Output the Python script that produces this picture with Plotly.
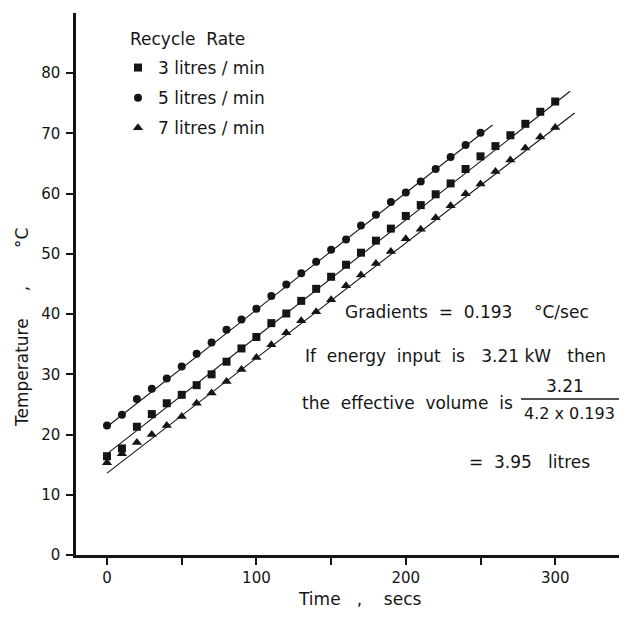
import plotly.graph_objects as go

# ---- data ----
time_5 = [0, 10, 20, 30, 40, 50, 60, 70, 80, 90, 100, 110, 120, 130, 140, 150,
          160, 170, 180, 190, 200, 210, 220, 230, 240, 250]
temp_5 = [21.5, 23.3, 25.9, 27.6, 29.3, 31.3, 33.4, 35.3, 37.4, 39.1, 40.9, 43.0,
          44.9, 46.8, 48.7, 50.7, 52.4, 54.7, 56.5, 58.6, 60.2, 62.0, 64.1, 66.1,
          68.1, 70.1]

time_3 = [0, 10, 20, 30, 40, 50, 60, 70, 80, 90, 100, 110, 120, 130, 140, 150,
          160, 170, 180, 190, 200, 210, 220, 230, 240, 250, 260, 270, 280, 290, 300]
temp_3 = [16.4, 17.7, 21.3, 23.4, 25.2, 26.6, 28.2, 30.0, 32.1, 34.3, 36.2, 38.5,
          40.1, 42.2, 44.2, 46.2, 48.2, 50.2, 52.2, 54.2, 56.3, 58.1, 59.9, 61.7,
          64.1, 66.2, 67.9, 69.7, 71.6, 73.6, 75.3]

time_7 = [0, 10, 20, 30, 40, 50, 60, 70, 80, 90, 100, 110, 120, 130, 140, 150,
          160, 170, 180, 190, 200, 210, 220, 230, 240, 250, 260, 270, 280, 290, 300]
temp_7 = [15.3, 16.8, 18.7, 20.0, 21.5, 23.0, 25.2, 26.9, 28.8, 30.8, 32.8, 34.9,
          36.9, 38.9, 40.4, 42.4, 44.7, 46.5, 48.4, 50.4, 52.5, 54.1, 56.0, 58.0,
          60.0, 61.6, 63.7, 65.6, 67.6, 69.4, 71.0]

# fitted straight lines (end points)
fit_5_t = [0, 258]
fit_5_T = [21.3, 71.4]
fit_3_t = [0, 310]
fit_3_T = [16.8, 77.0]
fit_7_t = [0, 313]
fit_7_T = [13.6, 73.4]

series_names = ["3 litres / min", "5 litres / min", "7 litres / min"]
x_tick_vals = [0, 50, 100, 150, 200, 250, 300]
x_tick_text = ["0", "", "100", "", "200", "", "300"]
y_tick_vals = [0, 10, 20, 30, 40, 50, 60, 70, 80]
y_tick_text = ["0", "10", "20", "30", "40", "50", "60", "70", "80"]

# ---- layout geometry (page body has an 8px margin) ----
OFF = 8
W, H = 627 - 2 * OFF, 619 - 2 * OFF
PL, PR, PT, PB = 76, 619, 13, 555          # plot area in window pixels
ML, MR, MT, MB = PL - OFF, (W + OFF) - PR, PT - OFF, (H + OFF) - PB
PW, PH = PR - PL, PB - PT
FONT = "DejaVu Sans"
INK = "#151515"


def px(xp):
    return (xp - PL) / PW


def py(yp):
    return (PB - yp) / PH


fig = go.Figure()

for tt, TT in [(fit_5_t, fit_5_T), (fit_3_t, fit_3_T), (fit_7_t, fit_7_T)]:
    fig.add_trace(go.Scatter(x=tt, y=TT, mode="lines", showlegend=False,
                             line=dict(color=INK, width=1.1), hoverinfo="skip"))

fig.add_trace(go.Scatter(x=time_3, y=temp_3, mode="markers", name=series_names[0],
                         legendgroup="a",
                         marker=dict(symbol="square", size=8, color=INK)))
fig.add_trace(go.Scatter(x=time_5, y=temp_5, mode="markers", name=series_names[1],
                         legendgroup="b",
                         marker=dict(symbol="circle", size=8, color=INK)))
fig.add_trace(go.Scatter(x=time_7, y=temp_7, mode="markers", name=series_names[2],
                         legendgroup="c",
                         marker=dict(symbol="triangle-up", size=9, color=INK)))

ann_font = dict(family=FONT, size=17, color=INK)
annotations = [
    dict(text="Recycle  Rate", x=px(128), y=py(39), xanchor="left", yanchor="middle"),
    dict(text="Gradients  =  0.193    °C/sec", x=px(343), y=py(312),
         xanchor="left", yanchor="middle"),
    dict(text="If  energy  input  is   3.21 kW   then", x=px(303), y=py(356),
         xanchor="left", yanchor="middle"),
    dict(text="the  effective  volume  is", x=px(300), y=py(403),
         xanchor="left", yanchor="middle"),
    dict(text="3.21", x=px(565), y=py(386), xanchor="center", yanchor="middle"),
    dict(text="4.2 x 0.193", x=px(569), y=py(413), xanchor="center", yanchor="middle",
         font=dict(family=FONT, size=16, color=INK)),
    dict(text="=  3.95   litres", x=px(467), y=py(462), xanchor="left", yanchor="middle"),
    dict(text="Time   ,    secs", x=px(359), y=py(599), xanchor="center", yanchor="middle",
         font=dict(family=FONT, size=17, color=INK)),
    dict(text="Temperature     ,       °C", x=px(22), y=py(328), xanchor="center",
         yanchor="middle", textangle=-90, font=dict(family=FONT, size=17, color=INK)),
]
for a in annotations:
    a.setdefault("font", ann_font)
    a.update(xref="paper", yref="paper", showarrow=False)

fig.update_layout(
    width=W, height=H,
    margin=dict(l=ML, r=MR, t=MT, b=MB, pad=0),
    paper_bgcolor="white", plot_bgcolor="white",
    font=dict(family=FONT, size=15, color=INK),
    showlegend=True,
    legend=dict(x=px(118), y=py(50), xanchor="left", yanchor="top",
                font=dict(family=FONT, size=17, color=INK),
                tracegroupgap=5, traceorder="grouped",
                bgcolor="rgba(0,0,0,0)", borderwidth=0),
    annotations=annotations,
    shapes=[dict(type="line", xref="paper", yref="paper",
                 x0=px(521), x1=px(619), y0=py(399), y1=py(399),
                 line=dict(color=INK, width=1.5))],
    xaxis=dict(range=[-20.75, 342.7], showgrid=False, zeroline=False,
               showline=True, linecolor=INK, linewidth=2.5,
               ticks="outside", ticklen=7, tickwidth=1.5, tickcolor=INK,
               tickvals=x_tick_vals, ticktext=x_tick_text,
               tickfont=dict(family=FONT, size=15, color=INK),
               ticklabelstandoff=0),
    yaxis=dict(range=[0, 90], showgrid=False, zeroline=False,
               showline=True, linecolor=INK, linewidth=2.5,
               ticks="outside", ticklen=7, tickwidth=1.5, tickcolor=INK,
               tickvals=y_tick_vals, ticktext=y_tick_text,
               tickfont=dict(family=FONT, size=15, color=INK),
               ticklabelstandoff=3),
)

fig.write_html("out.html")
